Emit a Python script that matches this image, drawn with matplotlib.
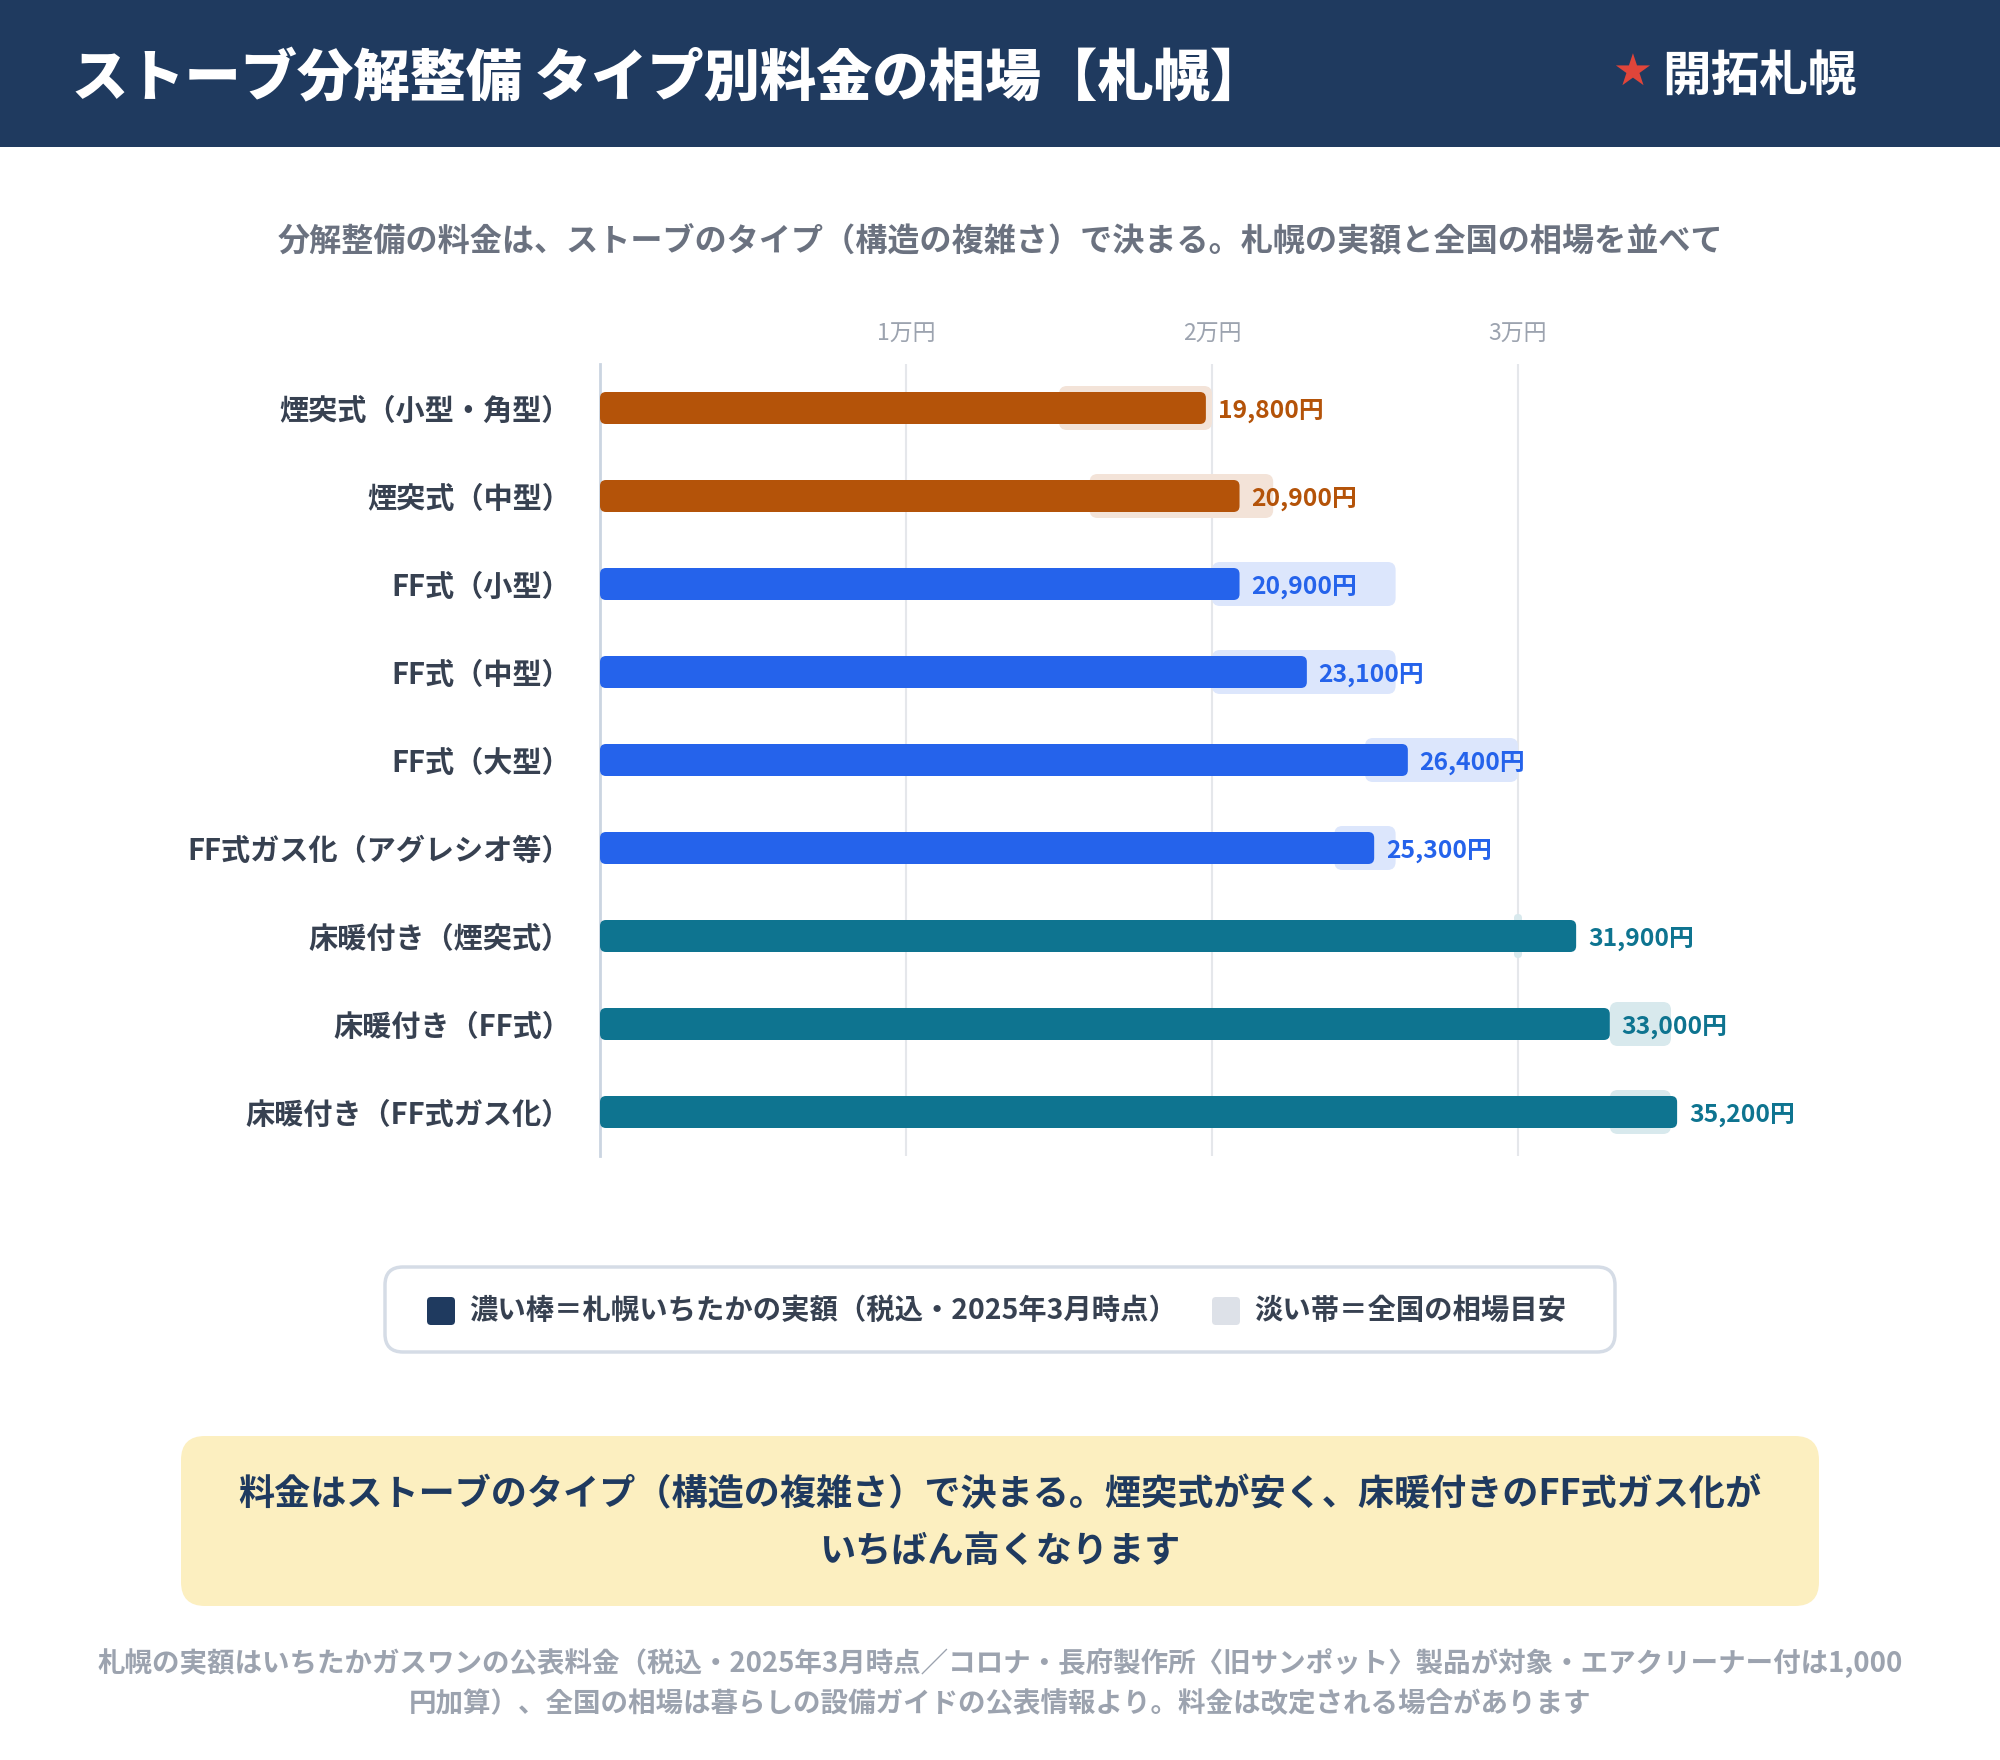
import matplotlib
matplotlib.use("Agg")
import matplotlib.pyplot as plt
from matplotlib.patches import FancyBboxPatch, Rectangle

plt.rcParams['font.family'] = ['Noto Sans CJK JP', 'DejaVu Sans']

# ---------------- data ----------------
title = "ストーブ分解整備 タイプ別料金の相場【札幌】"
logo = "開拓札幌"
subtitle = "分解整備の料金は、ストーブのタイプ（構造の複雑さ）で決まる。札幌の実額と全国の相場を並べて"
categories = ["煙突式（小型・角型）", "煙突式（中型）", "FF式（小型）", "FF式（中型）", "FF式（大型）",
              "FF式ガス化（アグレシオ等）", "床暖付き（煙突式）", "床暖付き（FF式）", "床暖付き（FF式ガス化）"]
sapporo_price = [19800, 20900, 20900, 23100, 26400, 25300, 31900, 33000, 35200]
national_low = [15000, 16000, 20000, 20000, 25000, 24000, 30000, 33000, 33000]
national_high = [20000, 22000, 26000, 26000, 30000, 26000, 30000, 35000, 35000]
groups = ["chimney", "chimney", "ff", "ff", "ff", "ff", "floor", "floor", "floor"]
tick_values = [10000, 20000, 30000]
tick_labels = ["1万円", "2万円", "3万円"]
legend_labels = ["濃い棒＝札幌いちたかの実額（税込・2025年3月時点）", "淡い帯＝全国の相場目安"]
note_lines = ["料金はストーブのタイプ（構造の複雑さ）で決まる。煙突式が安く、床暖付きのFF式ガス化が",
              "いちばん高くなります"]
footer_lines = ["札幌の実額はいちたかガスワンの公表料金（税込・2025年3月時点／コロナ・長府製作所〈旧サンポット〉製品が対象・エアクリーナー付は1,000",
                "円加算）、全国の相場は暮らしの設備ガイドの公表情報より。料金は改定される場合があります"]

group_colors = {"chimney": "#b45309", "ff": "#2563eb", "floor": "#0e7490"}

def blend(hexc, a):
    h = hexc.lstrip('#')
    r, g, b = [int(h[i:i + 2], 16) for i in (0, 2, 4)]
    return tuple((a * c + (1 - a) * 255) / 255 for c in (r, g, b))

# ---------------- figure ----------------
W, H = 2000, 1760
fig = plt.figure(figsize=(20, 17.6), dpi=100)
fig.patch.set_facecolor('white')
bg = fig.add_axes([0, 0, 1, 1])
bg.set_xlim(0, W)
bg.set_ylim(H, 0)
bg.axis('off')

# header
bg.add_patch(Rectangle((0, 0), W, 147, color='#1f3a5f', lw=0))
bg.text(72, 80, title, color='white', fontsize=40.5, fontweight='heavy', ha='left', va='center')
bg.text(1632, 73, "★", color='#e0453a', fontsize=32, ha='center', va='center',
        family=['DejaVu Sans'])
bg.text(1662, 76, logo, color='white', fontsize=35, fontweight='bold', ha='left', va='center')

# subtitle
bg.text(1000, 241, subtitle, color='#6b7280', fontsize=23.1, fontweight='bold', ha='center', va='center')

# ---------------- chart ----------------
ax_left, ax_top, ax_w, ax_h = 600, 364, 1101.6, 792
xmax = 36000
n = len(categories)
ax = fig.add_axes([ax_left / W, 1 - (ax_top + ax_h) / H, ax_w / W, ax_h / H])
ax.set_xlim(0, xmax)
ax.set_ylim(n - 0.5, -0.5)
ax.patch.set_alpha(0)

px_x = ax_w / xmax
px_y = ax_h / n
aspect = px_x / px_y

bar_h = 32 / px_y
band_h = 44 / px_y

for i in range(n):
    col = group_colors[groups[i]]
    lo, hi = national_low[i], national_high[i]
    w = hi - lo
    min_w = 8 / px_x
    if w < min_w:
        c = (lo + hi) / 2
        lo, w = c - min_w / 2, min_w
    r_band = min(8 / px_x, w / 2)
    ax.add_patch(FancyBboxPatch((lo, i - band_h / 2), w, band_h,
                                boxstyle=f"round,pad=0,rounding_size={r_band}",
                                mutation_aspect=aspect, fc=blend(col, 0.16), ec='none', zorder=2))
    v = sapporo_price[i]
    ax.add_patch(FancyBboxPatch((0, i - bar_h / 2), v, bar_h,
                                boxstyle=f"round,pad=0,rounding_size={6 / px_x}",
                                mutation_aspect=aspect, fc=col, ec='none', zorder=3))
    ax.annotate(f"{v:,}円", xy=(v, i), xytext=(8.5, 0), textcoords='offset points',
                ha='left', va='center_baseline', fontsize=17.8, fontweight='bold', color=col, zorder=4)

ax.set_xticks(tick_values)
ax.set_xticklabels(tick_labels)
ax.xaxis.tick_top()
ax.tick_params(axis='x', length=0, pad=13, labelsize=16.5, labelcolor='#9ca3af')
ax.set_yticks(range(n))
ax.set_yticklabels(categories, fontsize=21, fontweight='bold', color='#374151')
ax.tick_params(axis='y', length=0, pad=21)
ax.grid(axis='x', color='#e5e7eb', lw=1.5, zorder=0)
ax.grid(axis='y', visible=False)
ax.set_axisbelow(True)
for s in ['top', 'right', 'bottom']:
    ax.spines[s].set_visible(False)
ax.spines['left'].set_color('#cbd5e1')
ax.spines['left'].set_linewidth(2)

# ---------------- legend ----------------
bg.add_patch(FancyBboxPatch((385, 1267), 1230, 85, boxstyle="round,pad=0,rounding_size=18",
                            fc='white', ec='#d5dce6', lw=2.5))
bg.add_patch(FancyBboxPatch((427, 1297), 28, 28, boxstyle="round,pad=0,rounding_size=4",
                            fc='#1f3a5f', ec='none'))
bg.text(469, 1311, legend_labels[0], fontsize=20.4, fontweight='bold', color='#374151',
        ha='left', va='center')
bg.add_patch(FancyBboxPatch((1212, 1297), 28, 28, boxstyle="round,pad=0,rounding_size=4",
                            fc='#dde1e8', ec='none'))
bg.text(1254, 1311, legend_labels[1], fontsize=20.4, fontweight='bold', color='#374151',
        ha='left', va='center')

# ---------------- note box ----------------
bg.add_patch(FancyBboxPatch((181, 1436), 1638, 170, boxstyle="round,pad=0,rounding_size=24",
                            fc='#fcefc0', ec='none'))
bg.text(1000, 1495, note_lines[0], fontsize=26, fontweight='bold', color='#1f3a5f',
        ha='center', va='center')
bg.text(1000, 1551, note_lines[1], fontsize=26, fontweight='bold', color='#1f3a5f',
        ha='center', va='center')

# ---------------- footer ----------------
bg.text(1000, 1663, footer_lines[0], fontsize=19.8, fontweight='bold', color='#9ca3af',
        ha='center', va='center')
bg.text(1000, 1704, footer_lines[1], fontsize=19.8, fontweight='bold', color='#9ca3af',
        ha='center', va='center')

fig.savefig('out.png', dpi=100, facecolor='white')
